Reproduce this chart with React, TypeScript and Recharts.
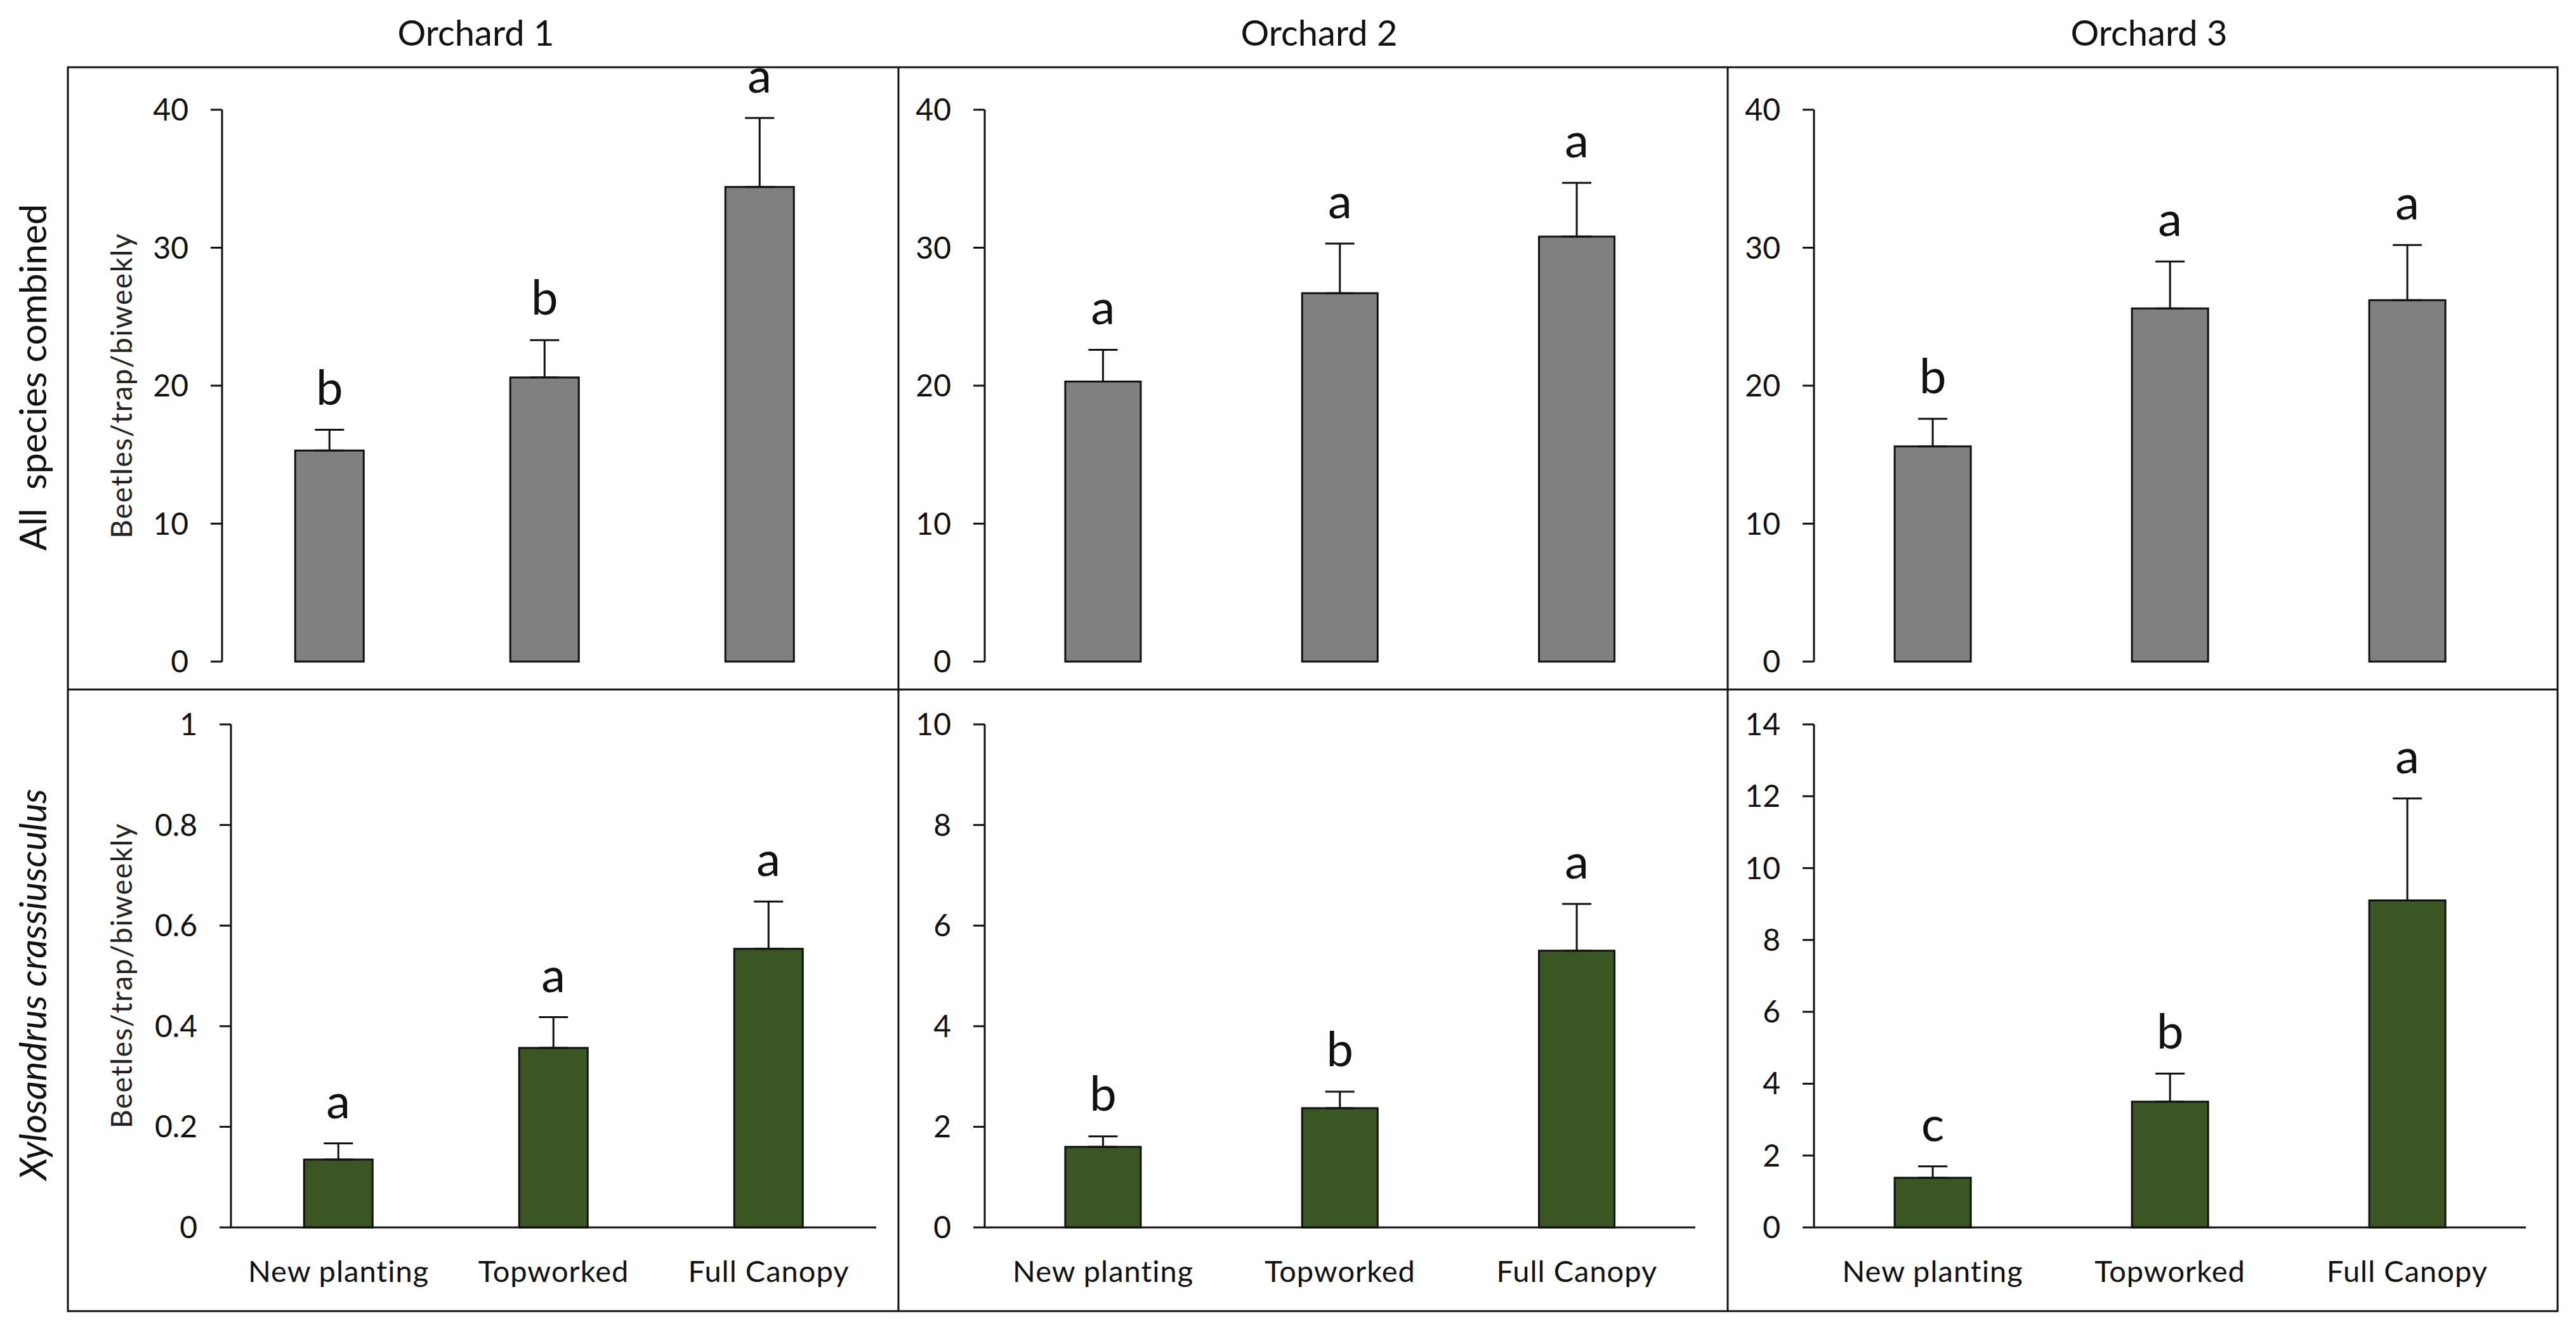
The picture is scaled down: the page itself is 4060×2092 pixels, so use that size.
import React from 'react';
import { BarChart, Bar, XAxis, YAxis, ErrorBar, LabelList } from 'recharts';

// ---------- data ----------
const categories = ['New planting', 'Topworked', 'Full Canopy'];
const orchards = ['Orchard 1', 'Orchard 2', 'Orchard 3'];
const rowTitles = ['All  species combined', 'Xylosandrus crassiusculus'];
const yLabel = 'Beetles/trap/biweekly';

const allMeanO1 = [15.3, 20.6, 34.4];
const allSeO1 = [1.5, 2.7, 5.0];
const allLetO1 = ['b', 'b', 'a'];
const allMeanO2 = [20.3, 26.7, 30.8];
const allSeO2 = [2.3, 3.6, 3.9];
const allLetO2 = ['a', 'a', 'a'];
const allMeanO3 = [15.6, 25.6, 26.2];
const allSeO3 = [2.0, 3.4, 4.0];
const allLetO3 = ['b', 'a', 'a'];

const xcMeanO1 = [0.135, 0.357, 0.554];
const xcSeO1 = [0.032, 0.061, 0.094];
const xcLetO1 = ['a', 'a', 'a'];
const xcMeanO2 = [1.6, 2.37, 5.5];
const xcSeO2 = [0.21, 0.33, 0.93];
const xcLetO2 = ['b', 'b', 'a'];
const xcMeanO3 = [1.38, 3.5, 9.1];
const xcSeO3 = [0.32, 0.78, 2.84];
const xcLetO3 = ['c', 'b', 'a'];

const allTicks = [0, 10, 20, 30, 40];
const xcTicksO1 = [0, 0.2, 0.4, 0.6, 0.8, 1];
const xcTicksO2 = [0, 2, 4, 6, 8, 10];
const xcTicksO3 = [0, 2, 4, 6, 8, 10, 12, 14];

// ---------- styling ----------
const FONT = 'Lato';
const INK = '#111';
const GRAY = '#808080';
const GREEN = '#3B5623';
const LETTER_GAP = 40;

const build = (mean: number[], se: number[], let_: string[]) =>
  categories.map((cat, i) => ({ cat, mean: mean[i], se: se[i], err: [0, se[i]], letter: let_[i] }));

type Panel = {
  rows: any[];
  ticks: number[];
  fill: string;
  left: number;
  top: number;
  width: number;
  height: number;
  margin: { top: number; right: number; bottom: number; left: number };
  yWidth: number;
  showX: boolean;
};

const COLS = [
  { left: 107, width: 1309 },
  { left: 1416, width: 1307 },
  { left: 2723, width: 1308 },
];

const panels: Panel[] = [
  { rows: build(allMeanO1, allSeO1, allLetO1), ticks: allTicks, fill: GRAY, left: COLS[0].left, top: 106, width: COLS[0].width, height: 981, margin: { top: 67, right: 49, bottom: 44, left: 123 }, yWidth: 120, showX: false },
  { rows: build(allMeanO2, allSeO2, allLetO2), ticks: allTicks, fill: GRAY, left: COLS[1].left, top: 106, width: COLS[1].width, height: 981, margin: { top: 67, right: 51, bottom: 44, left: 0 }, yWidth: 136, showX: false },
  { rows: build(allMeanO3, allSeO3, allLetO3), ticks: allTicks, fill: GRAY, left: COLS[2].left, top: 106, width: COLS[2].width, height: 981, margin: { top: 67, right: 50, bottom: 44, left: 0 }, yWidth: 136, showX: false },
  { rows: build(xcMeanO1, xcSeO1, xcLetO1), ticks: xcTicksO1, fill: GREEN, left: COLS[0].left, top: 1087, width: COLS[0].width, height: 980, margin: { top: 55, right: 35, bottom: 32, left: 137 }, yWidth: 120, showX: true },
  { rows: build(xcMeanO2, xcSeO2, xcLetO2), ticks: xcTicksO2, fill: GREEN, left: COLS[1].left, top: 1087, width: COLS[1].width, height: 980, margin: { top: 55, right: 51, bottom: 32, left: 0 }, yWidth: 136, showX: true },
  { rows: build(xcMeanO3, xcSeO3, xcLetO3), ticks: xcTicksO3, fill: GREEN, left: COLS[2].left, top: 1087, width: COLS[2].width, height: 980, margin: { top: 55, right: 50, bottom: 32, left: 0 }, yWidth: 136, showX: true },
];

const makeLetter = (rows: any[]) => (props: any) => {
  const vb = props.viewBox || props;
  const x = Number(vb.x);
  const y = Number(vb.y);
  const w = Number(vb.width);
  const h = Number(vb.height);
  const r = rows[props.index];
  if (!r || !isFinite(x)) return null;
  const errPx = r.mean > 0 ? h * (r.se / r.mean) : 0;
  return (
    <text x={x + w / 2} y={y - errPx - LETTER_GAP} textAnchor="middle" fontSize={76} fontFamily={FONT} fill={INK}>
      {props.value}
    </text>
  );
};

function PanelChart({ p }: { p: Panel }) {
  const max = p.ticks[p.ticks.length - 1];
  return (
    <div style={{ position: 'absolute', left: p.left, top: p.top, width: p.width, height: p.height }}>
      <BarChart width={p.width} height={p.height} data={p.rows} margin={p.margin} barCategoryGap="34%">
        {p.showX ? (
          <XAxis
            dataKey="cat"
            type="category"
            height={100}
            interval={0}
            tickLine={false}
            tickSize={0}
            tickMargin={53}
            axisLine={{ stroke: INK, strokeWidth: 3 }}
            tick={{ fill: INK, fontSize: 47, fontFamily: FONT, letterSpacing: 1 }}
          />
        ) : (
          <XAxis dataKey="cat" type="category" hide />
        )}
        <YAxis
          type="number"
          domain={[0, max]}
          ticks={p.ticks}
          interval={0}
          width={p.yWidth}
          tickSize={18}
          tickMargin={35}
          axisLine={{ stroke: INK, strokeWidth: 3 }}
          tickLine={{ stroke: INK, strokeWidth: 3 }}
          tick={{ fill: INK, fontSize: 48, fontFamily: FONT }}
        />
        <Bar dataKey="mean" fill={p.fill} stroke={INK} strokeWidth={3} isAnimationActive={false}>
          <ErrorBar dataKey="err" width={23} strokeWidth={3} stroke={INK} direction="y" isAnimationActive={false} />
          <LabelList dataKey="letter" content={makeLetter(p.rows)} />
        </Bar>
      </BarChart>
    </div>
  );
}

const titleX = [750, 2079, 3387];
const rowCenterY = [595, 1552];
const yLabelCenterY = [608, 1538];

export default function App() {
  return (
    <div style={{ position: 'absolute', left: 0, top: 0, width: 4060, height: 2092, background: '#fff', overflow: 'hidden' }}>
      <style>{'.recharts-surface{overflow:visible}'}</style>
      {panels.map((p, i) => (
        <PanelChart key={i} p={p} />
      ))}
      <svg width={4060} height={2092} style={{ position: 'absolute', left: 0, top: 0, pointerEvents: 'none' }}>
        {/* frame */}
        <rect x={107} y={106} width={3924} height={1961} fill="none" stroke={INK} strokeWidth={3} />
        <line x1={107} y1={1087} x2={4031} y2={1087} stroke={INK} strokeWidth={3} />
        <line x1={1416} y1={106} x2={1416} y2={2067} stroke={INK} strokeWidth={3} />
        <line x1={2723} y1={106} x2={2723} y2={2067} stroke={INK} strokeWidth={3} />
        {/* column titles */}
        {orchards.map((t, i) => (
          <text key={t} x={titleX[i]} y={72} textAnchor="middle" fontSize={56} fontFamily={FONT} fill={INK}>
            {t}
          </text>
        ))}
        {/* row titles */}
        {rowTitles.map((t, i) => (
          <text
            key={t}
            x={73}
            y={rowCenterY[i]}
            transform={`rotate(-90 73 ${rowCenterY[i]})`}
            textAnchor="middle"
            fontSize={58}
            fontFamily={FONT}
            fontStyle={i === 1 ? 'italic' : 'normal'}
            fill={INK}
            style={{ whiteSpace: 'pre' }}
          >
            {t}
          </text>
        ))}
        {/* y axis labels */}
        {yLabelCenterY.map((cy, i) => (
          <text
            key={i}
            x={208}
            y={cy}
            transform={`rotate(-90 208 ${cy})`}
            textAnchor="middle"
            fontSize={46}
            fontFamily={FONT}
            letterSpacing={1.5}
            fill="#222"
          >
            {yLabel}
          </text>
        ))}
      </svg>
    </div>
  );
}
